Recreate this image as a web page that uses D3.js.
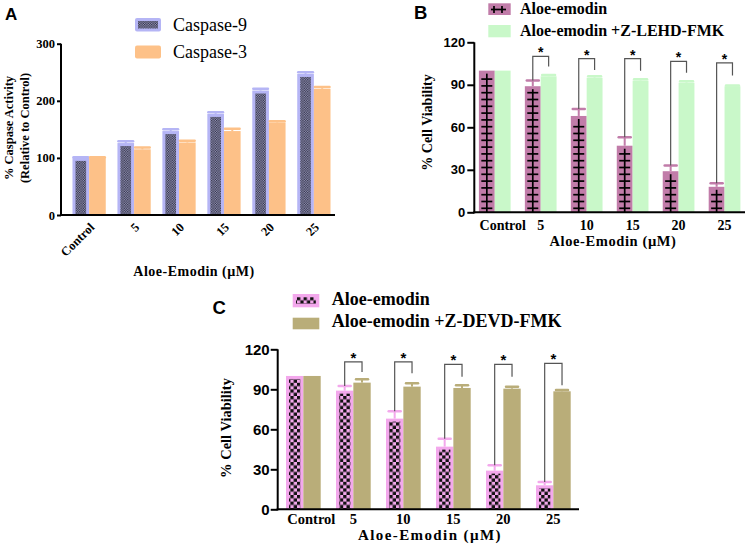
<!DOCTYPE html>
<html><head><meta charset="utf-8">
<script src="https://cdn.jsdelivr.net/npm/d3@7"></script>
<style>body{margin:0;background:#fff}</style>
</head><body>
<svg id="chart" width="754" height="546"></svg>
<script>
// ---------- DATA ----------
const categories = ["Control","5","10","15","20","25"];
// Panel A
const caspase9 = [100,126,147,177,218,247];
const caspase9Err = [1,3,3,3,3,3];
const caspase3 = [100,115,127,147,162,221];
const caspase3Err = [1,3,3,4,2,3];
const ticksA = [0,100,200,300];
// Panel B
const aloeB = [100,89,68,47,29,18];
const aloeBErr = [0,4,5,6,4,2.5];
const lehd = [100,96,95,93,91.5,89];
const lehdErr = [0,1,1,1,1,0.5];
const sigTopB = [110,108.5,108.5,106.5,105.5];
const sigEndB = [103,100.5,100,98.5,96.5];
// Panel C
const aloeC = [100,89,68,47,29,18];
const aloeCErr = [0,3.5,5.5,6,4,2.5];
const devd = [100,95,92,91,90.5,88.5];
const devdErr = [0,2.5,2.5,2,1.5,1];
const sigTopC = [110.5,110.5,108.7,108.7,109.5];
const sigEndC = [103,102,99.5,99.5,93];
const ticksBC = [0,30,60,90,120];

const SERIF = "'Liberation Serif','Times New Roman',serif";
const SANS = "'Liberation Sans',Arial,sans-serif";
const C = {lav:"#b5b5f5", dark:"#2b2b3d", peach:"#fdc188", mauve:"#c17ca9", mint:"#c9f8c9", pink:"#f3a8ec", tan:"#b9ad79", brk:"#555"};

const svg = d3.select("#chart");
const defs = svg.append("defs");
const p1 = defs.append("pattern").attr("id","fineCheck").attr("patternUnits","userSpaceOnUse").attr("width",2.4).attr("height",2.4);
p1.append("rect").attr("width",2.4).attr("height",2.4).attr("fill","#9a9ac0");
p1.append("rect").attr("width",1.2).attr("height",1.2).attr("fill",C.dark);
p1.append("rect").attr("x",1.2).attr("y",1.2).attr("width",1.2).attr("height",1.2).attr("fill",C.dark);
const p2 = defs.append("pattern").attr("id","coarseCheck").attr("patternUnits","userSpaceOnUse").attr("width",6.6).attr("height",6.6);
p2.append("rect").attr("width",6.6).attr("height",6.6).attr("fill",C.pink);
p2.append("rect").attr("width",3.3).attr("height",3.3).attr("fill","#111");
p2.append("rect").attr("x",3.3).attr("y",3.3).attr("width",3.3).attr("height",3.3).attr("fill","#111");

function errBar(g, y, cx, v, e, color, capW){
  if(!e) return;
  g.append("line").attr("x1",cx).attr("x2",cx).attr("y1",y(v)).attr("y2",y(v+e)).attr("stroke",color).attr("stroke-width",2);
  g.append("line").attr("x1",cx-capW/2).attr("x2",cx+capW/2).attr("y1",y(v+e)).attr("y2",y(v+e)).attr("stroke",color).attr("stroke-width",2.5).attr("stroke-linecap","round");
}

function styleAxis(g, font, size){
  g.selectAll("path").remove();
  g.selectAll("line").attr("stroke","#000").attr("stroke-width",2);
  g.selectAll("text").attr("font-family",font).attr("font-weight","bold").attr("font-size",size).attr("fill","#000");
}

// ================= PANEL A =================
{
  const y = d3.scaleLinear().domain([0,300]).range([215,43.7]);
  const x = d3.scaleBand().domain(categories).range([68,335]).paddingInner(0.26).paddingOuter(0.1);
  const xs = d3.scaleBand().domain([0,1]).range([0,x.bandwidth()]);
  const axX = 61;
  const g = svg.append("g");
  categories.forEach((c,i)=>{
    const x0 = x(c)+xs(0), w = xs.bandwidth();
    g.append("rect").attr("x",x0).attr("y",y(caspase9[i])).attr("width",w).attr("height",y(0)-y(caspase9[i])).attr("fill",C.lav);
    g.append("rect").attr("x",x0+3).attr("y",y(caspase9[i])+3).attr("width",w-6).attr("height",y(0)-y(caspase9[i])-3).attr("fill","url(#fineCheck)");
    errBar(g,y,x0+w/2,caspase9[i],caspase9Err[i],C.lav,w-2);
    const x1 = x(c)+xs(1);
    g.append("rect").attr("x",x1).attr("y",y(caspase3[i])).attr("width",w).attr("height",y(0)-y(caspase3[i])).attr("fill",C.peach);
    errBar(g,y,x1+w/2,caspase3[i],caspase3Err[i],C.peach,w-2);
  });
  const ya = svg.append("g").attr("transform",`translate(${axX},0)`)
    .call(d3.axisLeft(y).tickValues(ticksA).tickSize(4).tickPadding(2).tickSizeOuter(0));
  styleAxis(ya, SERIF, 12.5);
  svg.append("line").attr("x1",axX).attr("x2",axX).attr("y1",y(300)).attr("y2",y(0)+1).attr("stroke","#000").attr("stroke-width",2);
  svg.append("line").attr("x1",axX-1).attr("x2",335).attr("y1",y(0)).attr("y2",y(0)).attr("stroke","#000").attr("stroke-width",2);
  categories.forEach(c=>{
    svg.append("text").attr("transform",`translate(${x(c)+x.bandwidth()/2+6},228) rotate(-45)`)
      .attr("text-anchor","end").attr("font-family",SERIF).attr("font-weight","bold").attr("font-size",12.5).text(c);
  });
  svg.append("text").attr("x",194).attr("y",276).attr("text-anchor","middle").attr("font-family",SERIF).attr("font-weight","bold").attr("font-size",14).attr("letter-spacing",0.5).text("Aloe-Emodin (µM)");
  svg.append("text").attr("transform","translate(13,128) rotate(-90)").attr("text-anchor","middle").attr("font-family",SERIF).attr("font-weight","bold").attr("font-size",12.5).text("% Caspase Activity");
  svg.append("text").attr("transform","translate(28.5,128) rotate(-90)").attr("text-anchor","middle").attr("font-family",SERIF).attr("font-weight","bold").attr("font-size",12.5).text("(Relative to Control)");
  svg.append("rect").attr("x",135).attr("y",18).attr("width",26).attr("height",13.5).attr("rx",2).attr("fill",C.lav);
  svg.append("rect").attr("x",138).attr("y",21).attr("width",20).attr("height",7.5).attr("fill","url(#fineCheck)");
  svg.append("rect").attr("x",135).attr("y",45.5).attr("width",26).attr("height",13).attr("rx",2).attr("fill",C.peach);
  svg.append("text").attr("x",173).attr("y",30.5).attr("font-family",SERIF).attr("font-size",18).text("Caspase-9");
  svg.append("text").attr("x",173).attr("y",57.5).attr("font-family",SERIF).attr("font-size",18).text("Caspase-3");
  svg.append("text").attr("x",5).attr("y",19.5).attr("font-family",SANS).attr("font-weight","bold").attr("font-size",17).text("A");
}

function sigBrackets(g, x, xs, y, topVals, endVals, aloe, aloeErr, fs){
  categories.slice(1).forEach((c,j)=>{
    const i = j+1;
    const lx = x(c)+xs(0)+xs.bandwidth()/2, rx = x(c)+xs(1)+xs.bandwidth()/2;
    const ty = y(topVals[j]);
    g.append("path").attr("d",`M${lx},${y(aloe[i]+aloeErr[i])}V${ty}H${rx}V${y(endVals[j])}`)
      .attr("fill","none").attr("stroke",C.brk).attr("stroke-width",1.2);
    g.append("text").attr("x",(lx+rx)/2).attr("y",ty+1).attr("text-anchor","middle").attr("font-family",SANS).attr("font-weight","bold").attr("font-size",fs).text("*");
  });
}

// ================= PANEL B =================
{
  const y = d3.scaleLinear().domain([0,120]).range([212.3,42.3]);
  const x = d3.scaleBand().domain(categories).range([474.3,745]).paddingInner(0.31).paddingOuter(0.1);
  const xs = d3.scaleBand().domain([0,1]).range([0,x.bandwidth()]);
  const axX = 474.3;
  const g = svg.append("g");
  categories.forEach((c,i)=>{
    const x0 = x(c)+xs(0), w = xs.bandwidth(), cx = x0+w/2;
    errBar(g,y,cx,aloeB[i],aloeBErr[i],C.mauve,12);
    g.append("rect").attr("x",x0).attr("y",y(aloeB[i])).attr("width",w).attr("height",y(0)-y(aloeB[i])).attr("fill",C.mauve);
    const top = y(aloeB[i])+3, bot = y(0);
    g.append("line").attr("x1",cx).attr("x2",cx).attr("y1",top).attr("y2",bot).attr("stroke","#000").attr("stroke-width",1.7);
    d3.range(bot-4, top+1, -6.8).forEach(ty=>{
      g.append("line").attr("x1",cx-5.5).attr("x2",cx+5.5).attr("y1",ty).attr("y2",ty).attr("stroke","#000").attr("stroke-width",1.7);
    });
    const x1 = x(c)+xs(1);
    errBar(g,y,x1+w/2,lehd[i],lehdErr[i],C.mint,w-3);
    g.append("rect").attr("x",x1).attr("y",y(lehd[i])).attr("width",w).attr("height",y(0)-y(lehd[i])).attr("fill",C.mint);
  });
  sigBrackets(g,x,xs,y,sigTopB,sigEndB,aloeB,aloeBErr,14);
  const ya = svg.append("g").attr("transform",`translate(${axX},0)`)
    .call(d3.axisLeft(y).tickValues(ticksBC).tickSize(7).tickPadding(2).tickSizeOuter(0));
  styleAxis(ya, SANS, 13);
  svg.append("line").attr("x1",axX).attr("x2",axX).attr("y1",y(120)).attr("y2",y(0)+1).attr("stroke","#000").attr("stroke-width",2);
  svg.append("line").attr("x1",axX-1).attr("x2",745).attr("y1",y(0)).attr("y2",y(0)).attr("stroke","#000").attr("stroke-width",2);
  categories.forEach((c,i)=>{
    svg.append("text").attr("x",x(c)+x.bandwidth()/2+(i===0?8:0)).attr("y",229.5).attr("text-anchor","middle")
      .attr("font-family",SERIF).attr("font-weight","bold").attr("font-size",14).text(c);
  });
  svg.append("text").attr("x",613).attr("y",246).attr("text-anchor","middle").attr("font-family",SERIF).attr("font-weight","bold").attr("font-size",14.5).attr("letter-spacing",0.6).text("Aloe-Emodin (µM)");
  svg.append("text").attr("transform","translate(432,122.5) rotate(-90)").attr("text-anchor","middle").attr("font-family",SERIF).attr("font-weight","bold").attr("font-size",14).text("% Cell Viability");
  svg.append("rect").attr("x",488.3).attr("y",3.3).attr("width",22.4).attr("height",11.7).attr("fill",C.mauve);
  svg.append("line").attr("x1",491).attr("x2",506).attr("y1",9.5).attr("y2",9.5).attr("stroke","#000").attr("stroke-width",1.7);
  [494,502].forEach(px=>svg.append("line").attr("x1",px).attr("x2",px).attr("y1",6).attr("y2",13).attr("stroke","#000").attr("stroke-width",1.7));
  svg.append("rect").attr("x",488.3).attr("y",25).attr("width",22.4).attr("height",12.3).attr("fill",C.mint);
  svg.append("text").attr("x",520).attr("y",14).attr("font-family",SERIF).attr("font-weight","bold").attr("font-size",16).text("Aloe-emodin");
  svg.append("text").attr("x",520).attr("y",35.7).attr("font-family",SERIF).attr("font-weight","bold").attr("font-size",16).text("Aloe-emodin +Z-LEHD-FMK");
  svg.append("text").attr("x",414).attr("y",18.5).attr("font-family",SANS).attr("font-weight","bold").attr("font-size",18.5).text("B");
}

// ================= PANEL C =================
{
  const y = d3.scaleLinear().domain([0,120]).range([509.3,349.3]);
  const x = d3.scaleBand().domain(categories).range([277.7,579]).paddingInner(0.306).paddingOuter(0.166);
  const xs = d3.scaleBand().domain([0,1]).range([0,x.bandwidth()]);
  const axX = 277.7;
  const g = svg.append("g");
  categories.forEach((c,i)=>{
    const x0 = x(c)+xs(0), w = xs.bandwidth(), cx = x0+w/2;
    errBar(g,y,cx,aloeC[i],aloeCErr[i],C.pink,12);
    g.append("rect").attr("x",x0).attr("y",y(aloeC[i])).attr("width",w).attr("height",y(0)-y(aloeC[i])).attr("fill",C.pink);
    g.append("rect").attr("x",x0+3).attr("y",y(aloeC[i])+3).attr("width",w-6).attr("height",y(0)-y(aloeC[i])-3).attr("fill","url(#coarseCheck)");
    const x1 = x(c)+xs(1);
    errBar(g,y,x1+w/2,devd[i],devdErr[i],C.tan,12);
    g.append("rect").attr("x",x1).attr("y",y(devd[i])).attr("width",w).attr("height",y(0)-y(devd[i])).attr("fill",C.tan);
  });
  sigBrackets(g,x,xs,y,sigTopC,sigEndC,aloeC,aloeCErr,15);
  const ya = svg.append("g").attr("transform",`translate(${axX},0)`)
    .call(d3.axisLeft(y).tickValues(ticksBC).tickSize(7).tickPadding(1).tickSizeOuter(0));
  styleAxis(ya, SANS, 15);
  svg.append("line").attr("x1",axX).attr("x2",axX).attr("y1",y(120)).attr("y2",y(0)+1).attr("stroke","#000").attr("stroke-width",2);
  svg.append("line").attr("x1",axX-1).attr("x2",579).attr("y1",y(0)).attr("y2",y(0)).attr("stroke","#000").attr("stroke-width",2);
  categories.forEach((c,i)=>{
    svg.append("text").attr("x",x(c)+x.bandwidth()/2+(i===0?8:0)).attr("y",523.5).attr("text-anchor","middle")
      .attr("font-family",SERIF).attr("font-weight","bold").attr("font-size",14.5).text(c);
  });
  svg.append("text").attr("x",430).attr("y",540).attr("text-anchor","middle").attr("font-family",SERIF).attr("font-weight","bold").attr("font-size",15).attr("letter-spacing",1.4).text("Aloe-Emodin (µM)");
  svg.append("text").attr("transform","translate(231,428) rotate(-90)").attr("text-anchor","middle").attr("font-family",SERIF).attr("font-weight","bold").attr("font-size",14.5).text("% Cell Viability");
  svg.append("rect").attr("x",292.7).attr("y",294).attr("width",26.6).attr("height",13.3).attr("fill",C.pink);
  svg.append("rect").attr("x",296).attr("y",297.3).attr("width",19.8).attr("height",6.6).attr("fill","url(#coarseCheck)");
  svg.append("rect").attr("x",292.7).attr("y",317.7).attr("width",26.6).attr("height",11.6).attr("fill",C.tan);
  svg.append("text").attr("x",331.7).attr("y",305).attr("font-family",SERIF).attr("font-weight","bold").attr("font-size",18).text("Aloe-emodin");
  svg.append("text").attr("x",331.7).attr("y",326.7).attr("font-family",SERIF).attr("font-weight","bold").attr("font-size",18).text("Aloe-emodin +Z-DEVD-FMK");
  svg.append("text").attr("x",212.5).attr("y",313.5).attr("font-family",SANS).attr("font-weight","bold").attr("font-size",18.5).text("C");
}
</script>
</body></html>
